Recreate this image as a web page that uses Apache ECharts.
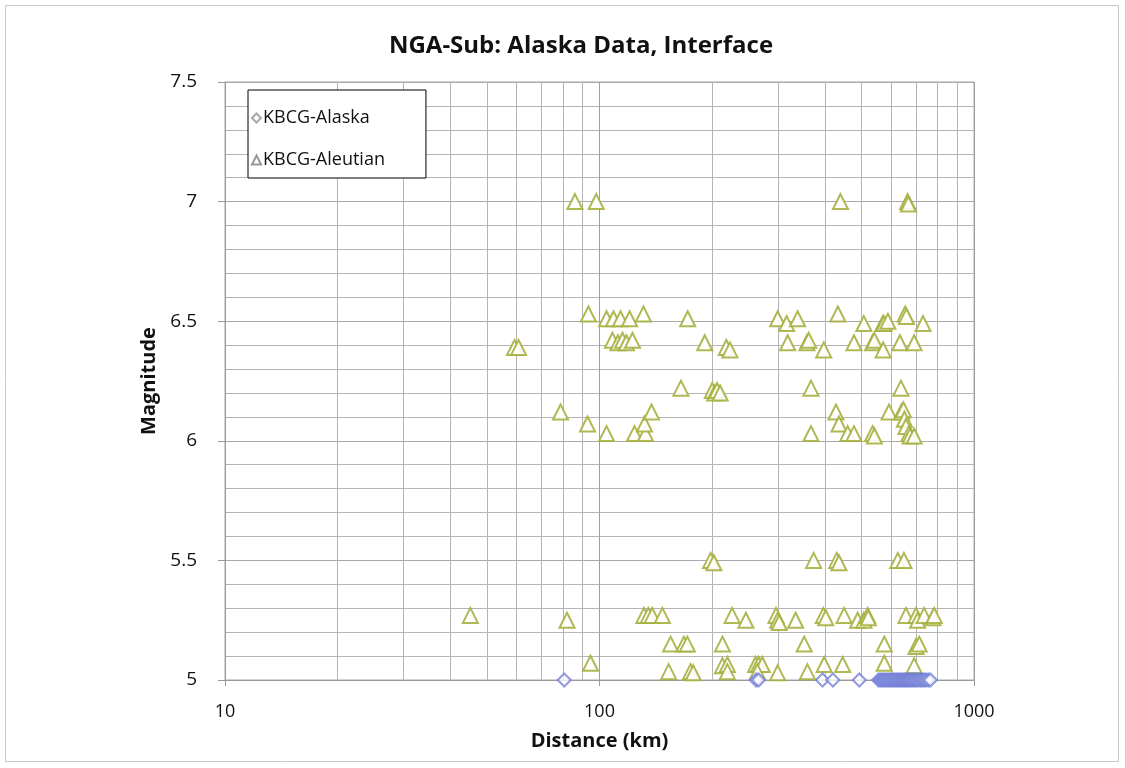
<!DOCTYPE html>
<html>
<head>
<meta charset="utf-8">
<script src="https://cdn.jsdelivr.net/npm/echarts@6/dist/echarts.min.js"></script>
<style>
  html, body { margin: 0; padding: 0; background: #ffffff; }
  #chart { width: 1125px; height: 768px; }
</style>
</head>
<body>
<div id="chart"></div>
<script>
// Distance (km) and magnitude of the KBCG-Alaska recordings
const alaskaDist = [80.5, 262, 266, 394, 420, 494,
  556, 562, 568, 574, 580, 586, 592, 598, 604, 610, 616, 622, 628, 634, 640,
  646, 652, 658, 664, 670, 676, 683, 690, 697, 704, 712, 720, 728, 736, 745, 755, 765];
const alaskaMag = [5.0, 5.0, 5.0, 5.0, 5.0, 5.0,
  5.0, 5.0, 5.0, 5.0, 5.0, 5.0, 5.0, 5.0, 5.0, 5.0, 5.0, 5.0, 5.0, 5.0, 5.0,
  5.0, 5.0, 5.0, 5.0, 5.0, 5.0, 5.0, 5.0, 5.0, 5.0, 5.0, 5.0, 5.0, 5.0, 5.0, 5.0, 5.0];

// Distance (km) and magnitude of the KBCG-Aleutian recordings
const aleutianDist = [
  86, 98, 440, 665, 668,
  93.4, 104.4, 109, 113.8, 120.3, 131, 172, 299, 316, 338, 433, 508, 571, 575, 589, 655, 660, 731,
  59.3, 60.8, 108.3, 112, 115.2, 118, 122.5, 191, 218, 223, 318, 358, 362, 397, 478, 536, 542, 572, 634, 692,
  165, 200, 203, 206, 210, 367, 638,
  78.7, 92.9, 104.4, 124, 132.7, 131.9, 137.7,
  367, 428, 436, 460, 478, 536, 542, 593, 640, 648, 652, 658, 670, 675, 692,
  198, 202, 373, 430, 436, 626, 650,
  45.2, 81.9, 131.4, 135, 138.3, 147.2, 226, 246, 296, 299, 302, 334, 396, 402, 450, 489, 508, 520, 522, 658, 700, 707, 736, 777, 783,
  154.8, 168, 171.6, 213, 352, 576, 700, 714,
  94.6, 153, 175, 178, 213, 219.5, 219.5, 261, 266, 272, 264, 299, 359, 398, 446, 576, 692
];
const aleutianMag = [
  7.0, 7.0, 7.0, 7.0, 6.99,
  6.53, 6.51, 6.51, 6.51, 6.51, 6.53, 6.51, 6.51, 6.49, 6.51, 6.53, 6.49, 6.49, 6.49, 6.5, 6.53, 6.52, 6.49,
  6.39, 6.39, 6.42, 6.41, 6.42, 6.41, 6.42, 6.41, 6.39, 6.38, 6.41, 6.41, 6.42, 6.38, 6.41, 6.41, 6.42, 6.38, 6.41, 6.41,
  6.22, 6.21, 6.2, 6.21, 6.2, 6.22, 6.22,
  6.12, 6.07, 6.03, 6.03, 6.03, 6.07, 6.12,
  6.03, 6.12, 6.07, 6.03, 6.03, 6.03, 6.02, 6.12, 6.12, 6.13, 6.09, 6.06, 6.03, 6.02, 6.02,
  5.5, 5.49, 5.5, 5.5, 5.49, 5.5, 5.5,
  5.27, 5.25, 5.27, 5.27, 5.27, 5.27, 5.27, 5.25, 5.27, 5.25, 5.24, 5.25, 5.27, 5.26, 5.27, 5.25, 5.25, 5.27, 5.26, 5.27, 5.27, 5.25, 5.27, 5.26, 5.27,
  5.15, 5.15, 5.15, 5.15, 5.15, 5.15, 5.14, 5.15,
  5.07, 5.035, 5.035, 5.03, 5.06, 5.065, 5.035, 5.065, 5.065, 5.065, 5.035, 5.03, 5.035, 5.065, 5.065, 5.07, 5.06
];

// Intermediate log-decade gridlines on the distance axis
const distanceGrid = [20, 30, 40, 50, 60, 70, 80, 90, 200, 300, 400, 500, 600, 700, 800, 900];

const pairs = (xs, ys) => xs.map((x, i) => [x, ys[i]]);
const FONT = '"Open Sans", Lato, sans-serif';
const LEGEND_GREY = '#8c8c8c';

const chart = echarts.init(document.getElementById('chart'), null, { renderer: 'canvas' });

chart.setOption({
  backgroundColor: '#ffffff',
  animation: false,
  title: {
    text: 'NGA-Sub: Alaska Data, Interface',
    left: 576,
    textAlign: 'center',
    top: 29,
    textStyle: { fontFamily: FONT, fontSize: 24, fontWeight: 'bold', color: '#111' }
  },
  graphic: [{
    type: 'rect',
    shape: { x: 5.5, y: 5.5, width: 1113, height: 756 },
    style: { fill: 'none', stroke: '#c9c9c9', lineWidth: 1 },
    silent: true
  }],
  legend: {
    orient: 'vertical',
    left: 248,
    top: 90,
    padding: [19, 41, 9, 3],
    itemGap: 24,
    itemWidth: 9,
    itemHeight: 9,
    backgroundColor: '#ffffff',
    borderColor: '#000000',
    borderWidth: 1,
    textStyle: { fontFamily: FONT, fontSize: 18, color: '#111', padding: [0, 0, 0, -3] },
    data: [
      { name: 'KBCG-Alaska', icon: 'emptyDiamond', itemStyle: { color: LEGEND_GREY, borderColor: LEGEND_GREY, borderWidth: 1 } },
      { name: 'KBCG-Aleutian', icon: 'emptyTriangle', itemStyle: { color: LEGEND_GREY, borderColor: LEGEND_GREY, borderWidth: 1 } }
    ]
  },
  grid: {
    left: 225, right: 151, top: 82, bottom: 88,
    show: true, borderColor: '#a8a8a8', borderWidth: 1, backgroundColor: 'transparent'
  },
  xAxis: {
    type: 'log',
    logBase: 10,
    min: 10,
    max: 1000,
    name: 'Distance (km)',
    nameLocation: 'middle',
    nameGap: 51,
    nameTextStyle: { fontFamily: FONT, fontSize: 20, fontWeight: 'bold', color: '#111' },
    axisLine: { show: true, lineStyle: { color: '#9a9a9a', width: 1 } },
    axisTick: { show: true, length: 6, lineStyle: { color: '#9a9a9a' } },
    axisLabel: { fontFamily: FONT, fontSize: 18, color: '#111', margin: 23, formatter: v => String(v) },
    splitLine: { show: true, lineStyle: { color: '#9e9e9e', width: 1 } }
  },
  yAxis: {
    type: 'value',
    min: 5,
    max: 7.5,
    interval: 0.5,
    name: 'Magnitude',
    nameLocation: 'middle',
    nameGap: 56,
    nameRotate: 90,
    nameTextStyle: { fontFamily: FONT, fontSize: 20, fontWeight: 'bold', color: '#111' },
    axisLine: { show: true, lineStyle: { color: '#9a9a9a', width: 1 } },
    axisTick: { show: true, length: 7, lineStyle: { color: '#9a9a9a' } },
    axisLabel: { fontFamily: FONT, fontSize: 19, color: '#111', margin: 28 },
    splitLine: { show: true, lineStyle: { color: '#a8a8a8', width: 1 } },
    minorTick: { show: false, splitNumber: 5 },
    minorSplitLine: { show: true, lineStyle: { color: '#b4b4b4', width: 1 } }
  },
  series: [
    {
      name: 'KBCG-Alaska',
      type: 'scatter',
      symbol: 'emptyDiamond',
      symbolSize: 13,
      z: 3,
      itemStyle: { color: '#6b78d4', borderColor: '#6b78d4', borderWidth: 1.6, opacity: 0.75 },
      data: pairs(alaskaDist, alaskaMag)
    },
    {
      name: 'KBCG-Aleutian',
      type: 'scatter',
      symbol: 'emptyTriangle',
      symbolSize: 15,
      z: 2,
      itemStyle: { color: '#a6b040', borderColor: '#a6b040', borderWidth: 1.6, opacity: 0.9 },
      data: pairs(aleutianDist, aleutianMag),
      markLine: {
        silent: true,
        symbol: ['none', 'none'],
        label: { show: false },
        z: 1,
        lineStyle: { color: '#b4b4b4', width: 1, type: 'solid' },
        data: distanceGrid.map(v => ({ xAxis: v }))
      }
    }
  ]
});
</script>
</body>
</html>
